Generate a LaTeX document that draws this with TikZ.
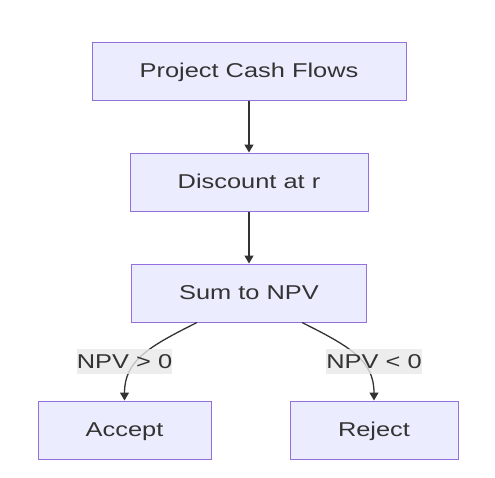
\documentclass[tikz,border=0pt]{standalone}
\usepackage{fontspec}
\setmainfont{Liberation Sans}[FakeStretch=1.27]
\usetikzlibrary{arrows.meta}
\definecolor{boxfill}{HTML}{ECECFF}
\definecolor{boxline}{HTML}{9370DB}
\definecolor{txt}{HTML}{333333}
\definecolor{lblbg}{HTML}{E8E8E8}
\tikzset{
  flowbox/.style={draw=boxline, fill=boxfill, line width=1pt, inner sep=0pt,
    text=txt, font=\fontsize{20}{22}\selectfont, text height=14.6pt, text depth=1.2pt},
  flowedge/.style={draw=txt, line width=1.3pt, -{Triangle[length=8pt,width=9pt]}},
  edgelabel/.style={fill=lblbg, fill opacity=0.8, text opacity=1, text=txt,
    inner sep=0pt, minimum width=95pt, minimum height=25pt,
    font=\fontsize{20}{22}\selectfont, text height=14.6pt, text depth=1.2pt}
}
\begin{document}
\begin{tikzpicture}[x=1pt,y=-1pt]
\useasboundingbox (0,0) rectangle (495,477);
\node[flowbox, minimum width=314pt, minimum height=58pt] (pcf) at (249,71) {Project Cash Flows};
\node[flowbox, minimum width=238pt, minimum height=58pt] (disc) at (249,182) {Discount at r};
\node[flowbox, minimum width=235pt, minimum height=58pt] (sum) at (249,293) {Sum to NPV};
\node[flowbox, minimum width=173pt, minimum height=58pt] (acc) at (124.5,430) {Accept};
\node[flowbox, minimum width=168pt, minimum height=58pt] (rej) at (374,430) {Reject};
\draw[flowedge] (pcf.south) -- (disc.north);
\draw[flowedge] (disc.south) -- (sum.north);
\coordinate (sl) at ([xshift=-52pt]sum.south);
\coordinate (sr) at ([xshift=53pt]sum.south);
\draw[flowedge] (sl) .. controls +(-48,24) and +(0,-40) .. (acc.north);
\draw[flowedge] (sr) .. controls +(48,24) and +(0,-40) .. (rej.north);
\node[edgelabel] (l1) at (124.5,361.5) {NPV > 0};
\node[edgelabel] (l2) at (374,361.5) {NPV < 0};
\end{tikzpicture}
\end{document}
